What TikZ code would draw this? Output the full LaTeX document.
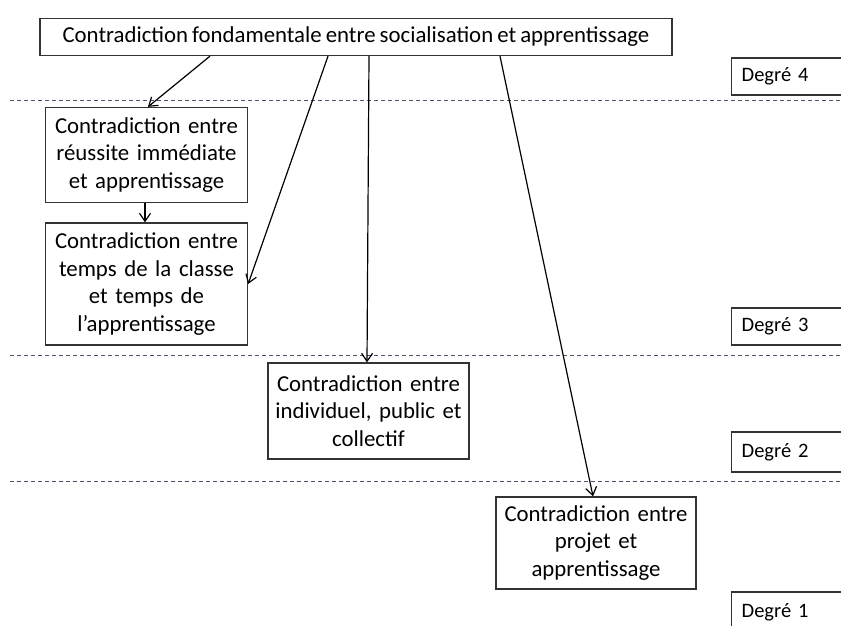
\documentclass[tikz,border=0pt]{standalone}
\usepackage{fontspec}
\setmainfont{Carlito}[WordSpace=0.8]
\usetikzlibrary{arrows.meta,positioning}
\definecolor{boxline}{HTML}{333333}
\definecolor{levelline}{HTML}{5A4A66}
\tikzset{
  contra/.style={draw=boxline,line width=1.3pt,fill=white,align=center,inner sep=2pt,
    font=\fontsize{22.8}{27.5}\selectfont},
  degre/.style={draw=boxline,line width=1.3pt,fill=white,anchor=west,align=left,
    text width=110pt,inner xsep=10pt,font=\fontsize{20.5}{24}\selectfont},
  arrow/.style={-{Straight Barb[length=8pt,width=11pt]},line width=1.2pt,black},
  levelsep/.style={levelline,line width=0.7pt,dash pattern=on 4pt off 3pt}
}

\begin{document}
\begin{tikzpicture}[x=1pt,y=-1pt]
  \clip (0,0) rectangle (841,626);
  \fill[white] (0,0) rectangle (841,626);

  % level separators
  \coordinate (s4) at (10,100);
  \coordinate (s3) at (10,355);
  \coordinate (s2) at (10,481);
  \foreach \s in {s4,s3,s2}
    \draw[levelsep] (\s) -- ++(835,0);

  % contradictions
  \node[contra,minimum width=632pt,minimum height=37pt] (fond) at (356,37)
    {Contradiction fondamentale entre socialisation et apprentissage};
  \node[contra,text width=198pt,minimum height=95pt] (reussite) at (146.5,155)
    {Contradiction entre\\réussite immédiate\\et apprentissage};
  \node[contra,text width=198pt,minimum height=122pt] (temps) at (146.5,284)
    {Contradiction entre\\temps de la classe\\et temps de\\l’apprentissage};
  \node[contra,text width=197pt,minimum height=96pt] (indiv) at (368.5,411)
    {Contradiction entre\\individuel, public et\\collectif};
  \node[contra,text width=196pt,minimum height=92pt] (projet) at (596,543)
    {Contradiction entre\\projet et\\apprentissage};

  % levels
  \node[degre,minimum height=37pt] (d4) at (731,76.5) {Degré 4};
  \node[degre,minimum height=37pt] (d3) at (731,326.5) {Degré 3};
  \node[degre,minimum height=40pt] (d2) at (731,452) {Degré 2};
  \node[degre,minimum height=40pt] (d1) at (731,612) {Degré 1};

  \draw[arrow] ([xshift=-146pt]fond.south) -- ([xshift=1.5pt]reussite.north);
  \draw[arrow] ([xshift=-28pt]fond.south) -- (temps.east);
  \draw[arrow] ([xshift=13pt]fond.south) -- ([xshift=-1.5pt]indiv.north);
  \draw[arrow] ([xshift=144pt]fond.south) -- ([xshift=-3pt]projet.north);
  \draw[arrow] ([xshift=-1.5pt]reussite.south) -- ([xshift=-1.5pt]temps.north);
\end{tikzpicture}
\end{document}
